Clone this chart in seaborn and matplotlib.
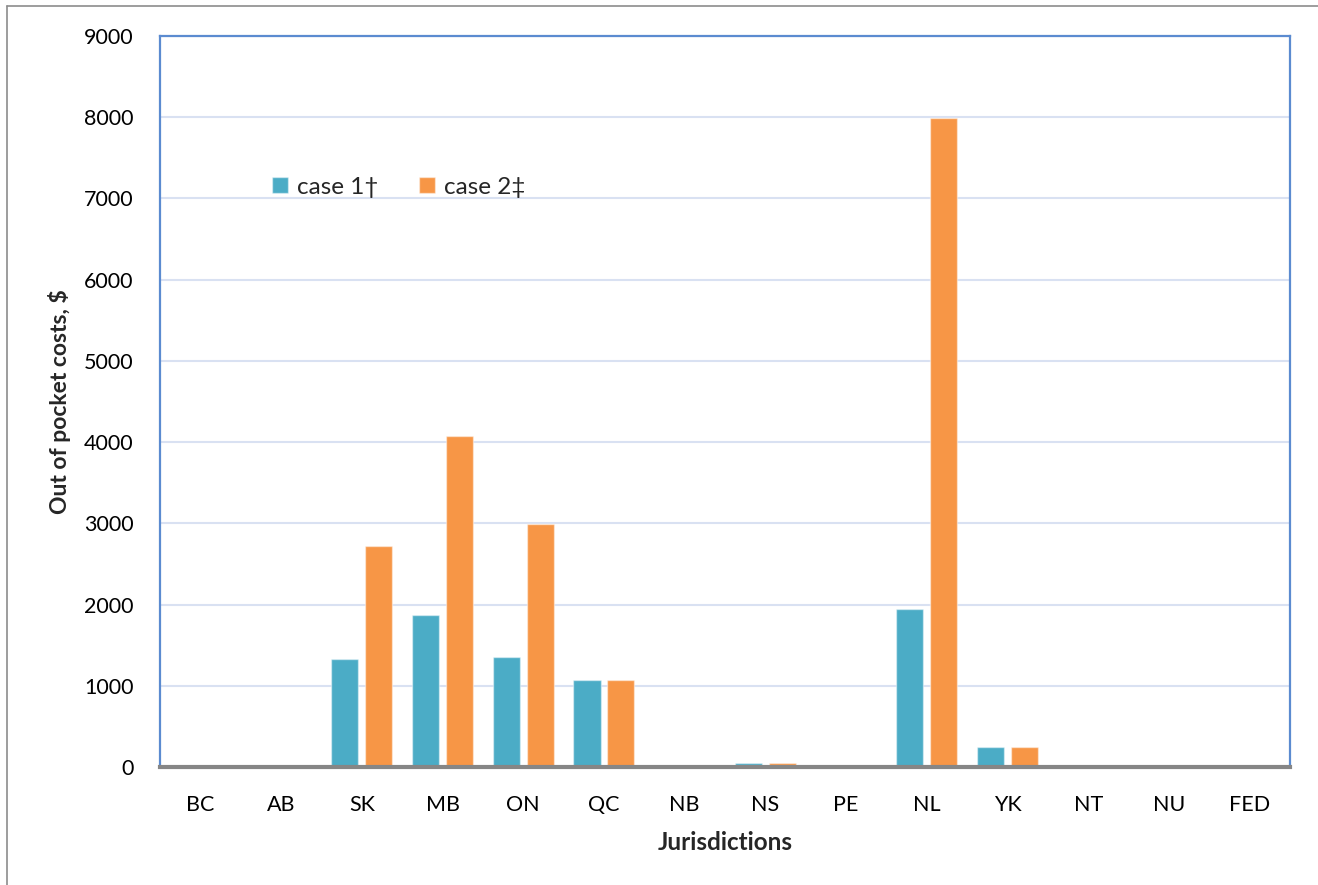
import matplotlib
matplotlib.use("Agg")
import matplotlib.pyplot as plt
from matplotlib.lines import Line2D
import seaborn as sns
import pandas as pd

# Jurisdictions and out-of-pocket costs ($) for the two cases
jurisdictions = ["BC", "AB", "SK", "MB", "ON", "QC", "NB", "NS", "PE", "NL", "YK", "NT", "NU", "FED"]
case1 = [0, 0, 1330, 1870, 1350, 1070, 0, 50, 0, 1950, 250, 0, 0, 0]
case2 = [0, 0, 2720, 4070, 2990, 1070, 0, 50, 0, 7990, 250, 0, 0, 0]
series_names = ["case 1\u2020", "case 2\u2021"]
y_ticks = [0, 1000, 2000, 3000, 4000, 5000, 6000, 7000, 8000, 9000]

df = pd.DataFrame({
    "Jurisdiction": jurisdictions * 2,
    "Cost": case1 + case2,
    "Case": [series_names[0]] * len(jurisdictions) + [series_names[1]] * len(jurisdictions),
})

sns.set_theme(style="white")
plt.rcParams["font.family"] = ["Lato", "DejaVu Sans"]

fig = plt.figure(figsize=(13.18, 8.85), dpi=100)
ax = fig.add_axes([160 / 1318, 1 - 767 / 885, 1130 / 1318, 731 / 885])

palette = {series_names[0]: "#4BACC6", series_names[1]: "#F79646"}
sns.barplot(
    data=df, x="Jurisdiction", y="Cost", hue="Case", order=jurisdictions,
    hue_order=series_names, palette=palette, width=0.84, gap=0.2,
    saturation=1, edgecolor=(1, 1, 1, 0.45), linewidth=1.0, ax=ax, zorder=3,
)

ax.set_ylim(0, 9000)
ax.set_xlim(-0.5, len(jurisdictions) - 0.5)
ax.set_yticks(y_ticks)
ax.set_yticklabels([str(v) for v in y_ticks])
ax.yaxis.grid(True, color="#D9E1F2", linewidth=1.5, zorder=0)
ax.set_axisbelow(True)
ax.tick_params(axis="both", length=0, labelsize=15.5, colors="#000000")
ax.tick_params(axis="y", pad=19)
ax.tick_params(axis="x", pad=20)

for side in ["left", "top", "right"]:
    ax.spines[side].set_color("#5B8BD0")
    ax.spines[side].set_linewidth(1.6)
ax.spines["bottom"].set_color("#868686")
ax.spines["bottom"].set_linewidth(3.0)
ax.spines["bottom"].set_zorder(5)

ax.set_xlabel("Jurisdictions", fontsize=17.5, fontweight="bold", labelpad=12)
ax.set_ylabel("Out of pocket costs, $", fontsize=16.5, fontweight="bold", labelpad=9)

handles, labels = ax.get_legend_handles_labels()
ax.legend(
    handles, labels, ncol=2, frameon=False, loc="center left",
    bbox_to_anchor=(0.08, 0.793), fontsize=17.5, handlelength=0.65,
    handleheight=0.65, handletextpad=0.35, columnspacing=1.7,
)

# Outer chart border (top and left edges)
fig.add_artist(Line2D([7 / 1318, 7 / 1318], [0, 1 - 6 / 885], transform=fig.transFigure,
                      color="#8C8C8C", linewidth=1.2))
fig.add_artist(Line2D([7 / 1318, 1], [1 - 6 / 885, 1 - 6 / 885], transform=fig.transFigure,
                      color="#8C8C8C", linewidth=1.2))

fig.savefig("out.png", dpi=100, facecolor="white")
